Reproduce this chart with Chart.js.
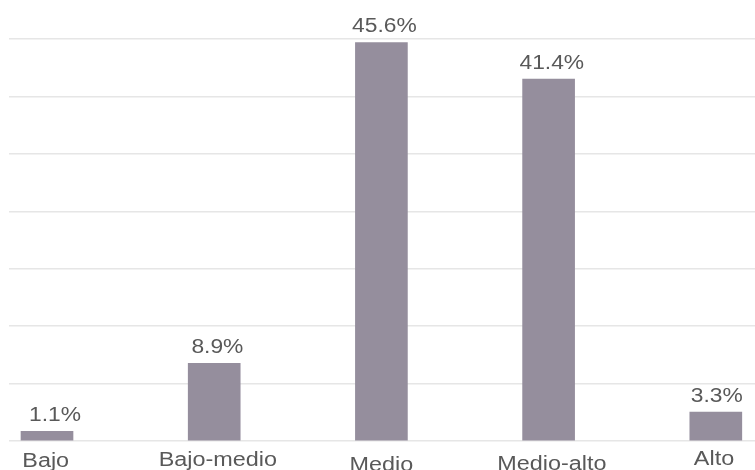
<!DOCTYPE html>
<html lang="es">
<head>
<meta charset="utf-8">
<title>Distribución por nivel</title>
<script src="https://cdn.jsdelivr.net/npm/chart.js@4.4.1/dist/chart.umd.min.js"></script>
<style>
    html, body { margin: 0; padding: 0; background: #fff; }
    #wrap { width: 755px; height: 470px; overflow: hidden; }
</style>
</head>
<body>
<div id="wrap"><canvas id="nivelChart" width="755" height="470"></canvas></div>
<script>
const categories = ['Bajo', 'Bajo-medio', 'Medio', 'Medio-alto', 'Alto'];
const shares = [1.1, 8.9, 45.6, 41.4, 3.3];

// small nudges for the hand-placed text under / over each bar (px)
const catLabelShiftX = [-1.3, 3.7, 0, 3.2, -1.8];
const catLabelDrop = [25.6, 25.3, 29.5, 29.3, 24];
const valueLabelShiftX = [8, 3.2, 3, 3.2, 0.9];

const TEXT_COLOR = '#595959';
const FONT = '"Liberation Sans", Arial, sans-serif';
const STRETCH = 1.17; // labels are set a little wide

const drawWide = (ctx, text, x, y, size) => {
    ctx.save();
    ctx.font = `${size}px ${FONT}`;
    ctx.fillStyle = TEXT_COLOR;
    ctx.textAlign = 'center';
    ctx.textBaseline = 'alphabetic';
    ctx.translate(x, y);
    ctx.scale(STRETCH, 1);
    ctx.fillText(text, 0, 0);
    ctx.restore();
}

const barTextPlugin = {
    id: 'barText',
    afterDatasetsDraw(chart) {
        const ctx = chart.ctx;
        const xs = chart.scales.x;
        const ys = chart.scales.y;
        shares.forEach((v, i) => {
            const x = xs.getPixelForValue(i);
            const top = ys.getPixelForValue(v);
            drawWide(ctx, `${v.toFixed(1)}%`, x + valueLabelShiftX[i], top - 10, 19.5);
            drawWide(ctx, categories[i], x + catLabelShiftX[i], ys.bottom + catLabelDrop[i], 20);
        });
    }
};

document.addEventListener('DOMContentLoaded', () => {
    let ctx = document.getElementById('nivelChart').getContext('2d');
    new Chart(ctx, {
        type: 'bar',
        data: {
            datasets: [{
                data: shares.map((v, i) => ({ x: i, y: v })),
                backgroundColor: '#958e9d',
                borderWidth: 0,
                barThickness: 52
            }]
        },
        options: {
            responsive: false,
            animation: false,
            layout: {
                padding: { top: 39, bottom: 29, left: 9, right: 0 }
            },
            scales: {
                x: {
                    type: 'linear',
                    offset: false,
                    min: -0.2273,
                    max: 4.2344,
                    display: false
                },
                y: {
                    min: 0,
                    max: 46,
                    ticks: { display: false, count: 8 },
                    grid: { color: '#e6e6e6', lineWidth: 1.5, drawTicks: false },
                    border: { display: false }
                }
            },
            plugins: {
                legend: { display: false },
                tooltip: { enabled: false }
            }
        },
        plugins: [barTextPlugin]
    });
});
</script>
</body>
</html>
